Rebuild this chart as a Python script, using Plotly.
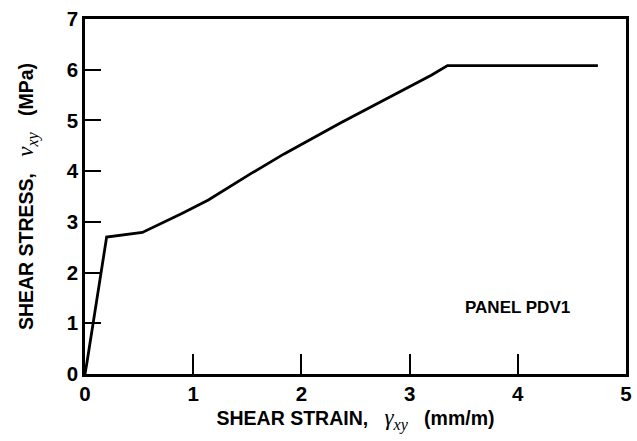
import plotly.graph_objects as go

# Shear stress vs shear strain response of panel PDV1
strain = [0.0, 0.02, 0.20, 0.53, 0.90, 1.14, 1.54, 1.84, 2.36, 2.88, 3.20, 3.35, 4.74]
stress = [0.0, 0.25, 2.70, 2.79, 3.17, 3.43, 3.96, 4.34, 4.95, 5.54, 5.89, 6.08, 6.08]

x_ticks = [0, 1, 2, 3, 4, 5]
y_ticks = [0, 1, 2, 3, 4, 5, 6, 7]

BOLD = "Liberation Sans"
SERIF = "Liberation Serif"
SP = "&nbsp;"

fig = go.Figure()
fig.add_trace(go.Scatter(
    x=strain, y=stress, mode="lines",
    line=dict(color="black", width=2.8),
    showlegend=False, hoverinfo="skip",
))

fig.add_annotation(
    x=4.0, y=1.32, xref="x", yref="y",
    text="<b>PANEL PDV1</b>", showarrow=False,
    font=dict(family=BOLD, size=17, color="black"),
)


def greek(sym):
    return (f'<span style="font-family:{SERIF};font-size:23px">'
            f'<i>{sym}<sub>xy</sub></i></span>')


axis_common = dict(
    showline=True, linecolor="black", linewidth=2.5, mirror=True,
    showgrid=False, zeroline=False,
    ticks="inside", tickwidth=2.2, tickcolor="black",
    tickfont=dict(family=BOLD, size=20.5, color="black", weight="bold"),
)

fig.update_xaxes(
    range=[0, 5], tickvals=x_ticks, ticktext=[str(v) for v in x_ticks],
    ticklen=20,
    title=dict(text=f"<b>SHEAR STRAIN,</b>{SP * 3}{greek('γ')}{SP * 3}<b>(mm/m)</b>",
               font=dict(family=BOLD, size=19.5, color="black"), standoff=8),
    **axis_common,
)
fig.update_yaxes(
    range=[0, 7], tickvals=y_ticks, ticktext=[str(v) for v in y_ticks],
    ticklen=16,
    title=dict(text=f"<b>SHEAR STRESS,</b>{SP * 3}{greek('v')}{SP * 3}<b>(MPa)</b>",
               font=dict(family=BOLD, size=19.5, color="black"), standoff=28),
    **axis_common,
)

fig.update_layout(
    width=637, height=441,
    margin=dict(l=85, r=5, t=19, b=67),
    paper_bgcolor="white", plot_bgcolor="white",
)

fig.write_html("out.html")
